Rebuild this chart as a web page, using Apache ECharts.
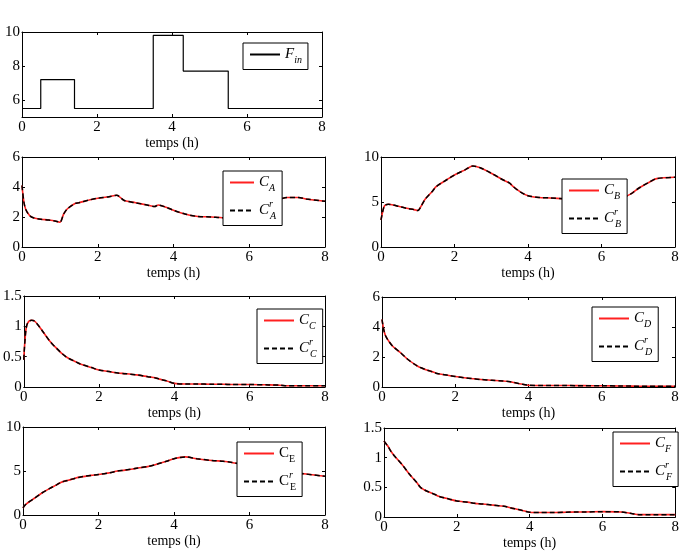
<!DOCTYPE html>
<html><head><meta charset="utf-8">
<script src="https://cdn.jsdelivr.net/npm/echarts@6/dist/echarts.min.js"></script>
<style>html,body{margin:0;padding:0;background:#fff}#c{width:682px;height:557px}</style>
</head><body><div id="c"></div>
<script>
// Feed flow (step)
const finT = [0, 0.5, 1.4, 3.5, 4.3, 5.5, 8];
const finV = [5.5, 7.2, 5.5, 9.8, 7.7, 5.5, 5.5];
// time grid for concentrations (h)
const t  = [0,0.05,0.1,0.2,0.3,0.5,0.7,0.9,1.0,1.1,1.2,1.4,1.5,1.8,2.0,2.3,2.5,2.7,3.0,3.3,3.5,3.6,3.8,4.0,4.3,4.6,5.0,5.3,5.5,6.0,6.5,6.8,7.0,7.3,7.5,8.0];
const cA = [4.1,3.0,2.5,2.1,1.95,1.85,1.8,1.72,1.65,2.2,2.55,2.9,2.95,3.15,3.25,3.35,3.45,3.1,2.95,2.8,2.7,2.8,2.65,2.45,2.2,2.05,2.0,1.95,1.95,2.6,3.05,3.2,3.3,3.3,3.2,3.05];
const cB = [3.0,4.0,4.6,4.75,4.7,4.5,4.3,4.15,4.05,4.6,5.3,6.2,6.7,7.5,8.0,8.6,9.0,8.8,8.2,7.5,7.1,6.7,6.1,5.7,5.5,5.45,5.35,5.3,5.3,5.3,5.4,5.9,6.5,7.2,7.6,7.75];
const cC = [0.45,0.9,1.05,1.1,1.08,0.92,0.75,0.62,0.56,0.51,0.47,0.41,0.38,0.32,0.28,0.25,0.23,0.22,0.2,0.17,0.15,0.13,0.1,0.06,0.05,0.05,0.045,0.045,0.04,0.04,0.035,0.03,0.02,0.02,0.02,0.02];
const cD = [4.5,3.8,3.4,3.0,2.7,2.3,1.85,1.5,1.35,1.25,1.15,1.0,0.9,0.78,0.7,0.6,0.55,0.5,0.45,0.4,0.35,0.3,0.2,0.12,0.1,0.1,0.1,0.09,0.09,0.08,0.07,0.06,0.05,0.05,0.05,0.05];
const cE = [0.8,1.1,1.3,1.6,1.9,2.5,3.0,3.45,3.7,3.85,3.95,4.2,4.3,4.5,4.6,4.8,5.0,5.1,5.3,5.5,5.7,5.85,6.1,6.4,6.6,6.4,6.2,6.1,6.0,5.6,5.2,5.0,4.9,4.75,4.65,4.4];
const cF = [1.28,1.24,1.2,1.1,1.02,0.88,0.72,0.58,0.5,0.46,0.43,0.38,0.35,0.3,0.27,0.25,0.23,0.22,0.2,0.18,0.15,0.14,0.11,0.08,0.075,0.075,0.08,0.085,0.085,0.09,0.085,0.06,0.04,0.04,0.04,0.04];
const xLabel = 'temps (h)';

const FONT = 'Liberation Serif';
const grids = [
  {left:22, top:32, width:300, height:85},
  {left:22, top:157, width:303, height:90},
  {left:381, top:157, width:294, height:90},
  {left:23, top:296, width:302, height:91},
  {left:382, top:297, width:293, height:90},
  {left:23, top:427, width:302, height:88},
  {left:384, top:428, width:296, height:89}
];
const yCfg = [
  {min:5, max:10, ticks:[6,8,10]},
  {min:0, max:6, interval:2},
  {min:0, max:10, interval:5},
  {min:0, max:1.5, interval:0.5},
  {min:0, max:6, interval:2},
  {min:0, max:10, interval:5},
  {min:0, max:1.5, interval:0.5}
];
const xAxes = [], yAxes = [];
grids.forEach((g, i) => {
  xAxes.push({type:'value', gridIndex:i, min:0, max:8, interval:2, position:'bottom',
    name: xLabel, nameLocation:'middle', nameGap:15,
    nameTextStyle:{fontFamily:FONT, fontSize:14, color:'#000'},
    axisLine:{show:true, onZero:false, lineStyle:{color:'#000', width:1}},
    axisTick:{show:true, inside:true, length:3, lineStyle:{color:'#000'}},
    axisLabel:{fontFamily:FONT, fontSize:15, color:'#000', margin:3},
    splitLine:{show:false}});
  xAxes.push({type:'value', gridIndex:i, min:0, max:8, interval:2, position:'top',
    axisLine:{show:true, onZero:false, lineStyle:{color:'#000', width:1}},
    axisTick:{show:true, inside:true, length:3, lineStyle:{color:'#000'}},
    axisLabel:{show:false}, splitLine:{show:false}});
  const y = yCfg[i];
  const base = {type:'value', gridIndex:i, min:y.min, max:y.max, splitLine:{show:false}};
  if (y.interval) base.interval = y.interval;
  const left = Object.assign({}, base, {position:'left',
    axisLine:{show:true, onZero:false, lineStyle:{color:'#000', width:1}},
    axisTick:{show:true, inside:true, length:3, lineStyle:{color:'#000'}},
    axisLabel:{fontFamily:FONT, fontSize:15, color:'#000', margin:2}});
  const right = Object.assign({}, base, {position:'right',
    axisLine:{show:true, onZero:false, lineStyle:{color:'#000', width:1}},
    axisTick:{show:true, inside:true, length:3, lineStyle:{color:'#000'}},
    axisLabel:{show:false}});
  if (y.ticks) {
    left.axisLabel.customValues = y.ticks; left.axisTick.customValues = y.ticks;
    right.axisTick.customValues = y.ticks;
  }
  yAxes.push(left, right);
});

const pair = v => t.map((x, i) => [x, v[i]]);
const series = [{
  name:'Fin', type:'line', step:'end', xAxisIndex:0, yAxisIndex:0, symbol:'none',
  data: finT.map((x, i) => [x, finV[i]]), lineStyle:{color:'#000', width:1.2}, itemStyle:{color:'#000'}
}];
const conc = [['A', cA], ['B', cB], ['C', cC], ['D', cD], ['E', cE], ['F', cF]];
conc.forEach(([k, v], j) => {
  const g = j + 1;
  series.push({name:'C'+k, type:'line', xAxisIndex:2*g, yAxisIndex:2*g, symbol:'none', smooth:0.3,
    data: pair(v), lineStyle:{color:'#ff2020', width:1.6}, itemStyle:{color:'#ff2020'}});
  series.push({name:'C'+k+'r', type:'line', xAxisIndex:2*g, yAxisIndex:2*g, symbol:'none', smooth:0.3,
    data: pair(v), lineStyle:{color:'#000', width:1.5, type:[5,3]}, itemStyle:{color:'#000'}});
});

const rich = {
  c:{fontFamily:FONT, fontSize:15, fontStyle:'italic', color:'#000', lineHeight:22},
  s:{fontFamily:FONT, fontSize:10, fontStyle:'italic', color:'#000', verticalAlign:'bottom', lineHeight:10},
  r:{fontFamily:FONT, fontSize:10, fontStyle:'italic', color:'#000', verticalAlign:'top', lineHeight:10, width:1},
  cn:{fontFamily:FONT, fontSize:15, color:'#000', lineHeight:22},
  sn:{fontFamily:FONT, fontSize:10, color:'#000', verticalAlign:'bottom', lineHeight:10},
  rn:{fontFamily:FONT, fontSize:10, fontStyle:'italic', color:'#000', verticalAlign:'top', lineHeight:10, width:1}
};
function fmt(name) {
  if (name === 'Fin') return '{c|F}{s|in}';
  const k = name[1], isR = name.length > 2;
  if (k === 'E') return isR ? '{cn|C}{rn|r}{sn|E}' : '{cn|C}{sn|E}';
  return isR ? '{c|C}{r|r}{s|' + k + '}' : '{c|C}{s|' + k + '}';
}
const legPos = [
  {left:243, top:43}, {left:223, top:171}, {left:562, top:179}, {left:257, top:309},
  {left:592, top:307}, {left:237, top:442}, {left:613, top:432}
];
const legends = legPos.map((p, i) => ({
  data: i === 0 ? ['Fin'] : ['C'+conc[i-1][0], 'C'+conc[i-1][0]+'r'],
  left:p.left, top:p.top, orient:'vertical', itemWidth: i===1 ? 24 : 30, itemHeight:14, itemGap:6,
  padding:[4,6,4,6], backgroundColor:'#fff', borderColor:'#000', borderWidth:1,
  selectedMode:false, formatter:fmt, textStyle:{rich:rich, fontFamily:FONT, color:'#000'},
  itemStyle:{opacity:0}
}));

const chart = echarts.init(document.getElementById('c'), null, {renderer:'canvas'});
chart.setOption({
  animation:false, backgroundColor:'#fff',
  grid:grids, xAxis:xAxes, yAxis:yAxes, series:series, legend:legends
});
</script></body></html>
